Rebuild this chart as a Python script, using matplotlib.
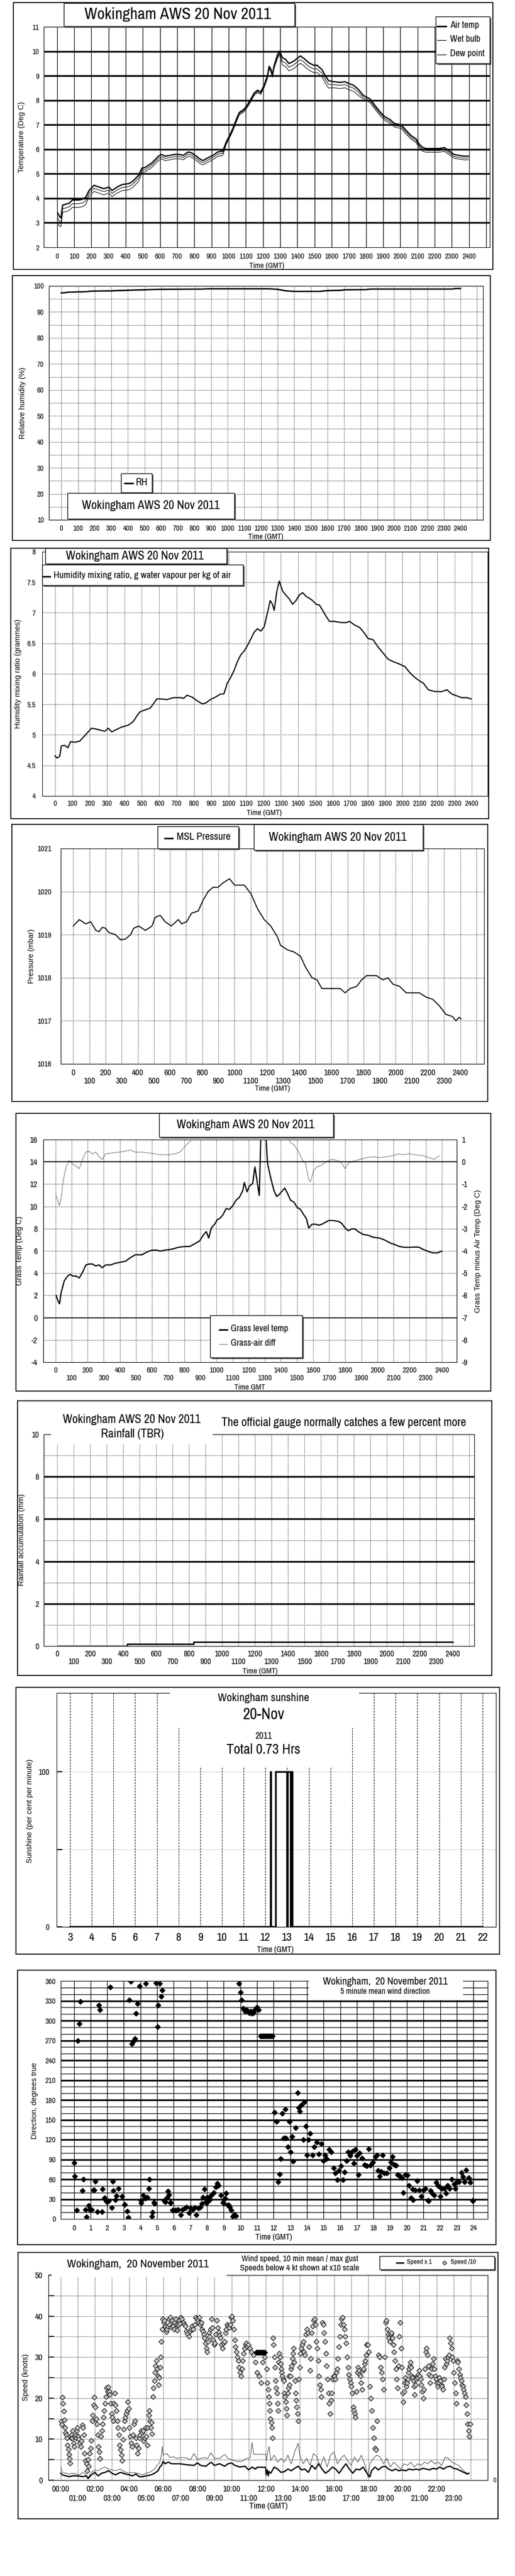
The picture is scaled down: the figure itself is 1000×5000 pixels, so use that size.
import numpy as np
import matplotlib
matplotlib.use("Agg")
import matplotlib.pyplot as plt
from matplotlib.patches import Rectangle

# ------------------------------------------------------------------
# values for 20 Nov 2011
# times for the first six charts are in "HHMM" units (100 = 1 hour)
# ------------------------------------------------------------------
temp_time = [4, 13, 23, 33, 52, 71, 90, 129, 148, 167, 187, 216, 244, 273, 302, 321, 350, 379,
             418, 437, 456, 475, 495, 514, 552, 572, 591, 610, 629, 658, 687, 716, 735, 764,
             783, 812, 831, 850, 879, 908, 937, 966, 985, 1005, 1024, 1043, 1062, 1091, 1110,
             1130, 1149, 1168, 1187, 1207, 1226, 1236, 1245, 1255, 1264, 1284, 1297, 1313, 1332,
             1351, 1380, 1399, 1418, 1438, 1467, 1495, 1515, 1544, 1563, 1582, 1611, 1649, 1678,
             1697, 1726, 1755, 1784, 1823, 1853, 1880, 1909, 1938, 1967, 2005, 2034, 2063, 2092,
             2111, 2131, 2150, 2188, 2226, 2256, 2284, 2313, 2342, 2371, 2396]
air_temp = [3.40, 3.27, 3.20, 3.72, 3.76, 3.80, 3.93, 3.93, 3.96, 4.04, 4.32, 4.53, 4.46, 4.39,
            4.46, 4.32, 4.46, 4.56, 4.60, 4.67, 4.80, 4.94, 5.23, 5.26, 5.44, 5.58, 5.72, 5.79,
            5.72, 5.75, 5.79, 5.79, 5.75, 5.89, 5.86, 5.72, 5.61, 5.54, 5.65, 5.75, 5.89, 5.93,
            6.28, 6.56, 6.84, 7.19, 7.50, 7.64, 7.82, 8.06, 8.30, 8.41, 8.34, 8.62, 9.00, 9.39,
            9.28, 9.04, 9.39, 9.85, 10.00, 9.74, 9.67, 9.50, 9.60, 9.71, 9.81, 9.71, 9.53, 9.43,
            9.43, 9.25, 9.00, 8.80, 8.76, 8.73, 8.76, 8.69, 8.62, 8.45, 8.20, 8.06, 7.78, 7.54,
            7.33, 7.22, 7.05, 7.00, 6.77, 6.56, 6.42, 6.20, 6.07, 6.03, 6.03, 6.03, 6.07, 5.93,
            5.79, 5.75, 5.72, 5.72]
wet_bulb = [3.20, 3.07, 3.02, 3.57, 3.61, 3.65, 3.78, 3.78, 3.81, 3.89, 4.20, 4.41, 4.34, 4.27,
            4.34, 4.20, 4.34, 4.44, 4.48, 4.55, 4.68, 4.82, 5.14, 5.17, 5.35, 5.49, 5.63, 5.70,
            5.63, 5.66, 5.70, 5.70, 5.66, 5.80, 5.77, 5.63, 5.52, 5.45, 5.56, 5.66, 5.80, 5.84,
            6.23, 6.51, 6.79, 7.14, 7.45, 7.59, 7.77, 8.01, 8.25, 8.36, 8.29, 8.57, 8.95, 9.34,
            9.23, 8.99, 9.34, 9.77, 9.92, 9.59, 9.52, 9.35, 9.45, 9.56, 9.66, 9.56, 9.38, 9.28,
            9.28, 9.10, 8.85, 8.65, 8.64, 8.61, 8.64, 8.57, 8.50, 8.33, 8.12, 7.98, 7.70, 7.46,
            7.25, 7.14, 6.97, 6.92, 6.69, 6.48, 6.34, 6.12, 5.99, 5.95, 5.95, 5.95, 5.99, 5.85,
            5.71, 5.67, 5.64, 5.64]
dew_point = [3.00, 2.87, 2.85, 3.42, 3.46, 3.50, 3.63, 3.63, 3.66, 3.74, 4.07, 4.28, 4.21, 4.14,
             4.21, 4.07, 4.21, 4.31, 4.35, 4.42, 4.55, 4.69, 5.05, 5.08, 5.26, 5.40, 5.54, 5.61,
             5.54, 5.57, 5.61, 5.61, 5.57, 5.71, 5.68, 5.54, 5.43, 5.36, 5.47, 5.57, 5.71, 5.75,
             6.18, 6.46, 6.74, 7.09, 7.40, 7.54, 7.72, 7.96, 8.20, 8.31, 8.24, 8.52, 8.90, 9.29,
             9.18, 8.94, 9.29, 9.70, 9.85, 9.44, 9.37, 9.20, 9.30, 9.41, 9.51, 9.41, 9.23, 9.13,
             9.13, 8.95, 8.70, 8.50, 8.51, 8.48, 8.51, 8.44, 8.37, 8.20, 8.05, 7.91, 7.63, 7.39,
             7.18, 7.07, 6.90, 6.85, 6.62, 6.41, 6.27, 6.05, 5.92, 5.88, 5.88, 5.88, 5.92, 5.78,
             5.64, 5.60, 5.57, 5.57]

rh_time = [0, 20, 40, 100, 150, 180, 300, 330, 400, 420, 500, 530, 600, 850, 880, 1250, 1300,
           1350, 1400, 1550, 1600, 1680, 1700, 1830, 1860, 2350, 2370, 2400]
rh = [97.3, 97.4, 97.6, 97.7, 97.8, 98.0, 98.1, 98.2, 98.3, 98.4, 98.5, 98.6, 98.7, 98.8, 98.9,
      98.9, 98.7, 98.1, 97.9, 97.9, 98.2, 98.3, 98.5, 98.6, 98.8, 98.8, 99.0, 99.0]

mix_time = [0, 12, 27, 37, 56, 75, 89, 114, 143, 172, 191, 210, 230, 259, 287, 307, 326, 355,
            384, 422, 451, 471, 490, 519, 548, 567, 586, 606, 644, 683, 722, 741, 760, 789, 818,
            847, 866, 895, 924, 953, 972, 992, 1011, 1030, 1050, 1069, 1088, 1107, 1127, 1146,
            1165, 1185, 1204, 1223, 1239, 1252, 1262, 1277, 1291, 1310, 1329, 1348, 1368, 1387,
            1406, 1426, 1445, 1464, 1483, 1503, 1522, 1541, 1561, 1580, 1609, 1648, 1677, 1696,
            1725, 1754, 1783, 1802, 1831, 1860, 1889, 1918, 1947, 1976, 2014, 2043, 2072, 2101,
            2120, 2149, 2188, 2227, 2256, 2284, 2313, 2342, 2371, 2396]
mix_ratio = [4.66, 4.62, 4.65, 4.82, 4.83, 4.79, 4.89, 4.88, 4.90, 4.99, 5.05, 5.11, 5.10, 5.08,
             5.06, 5.11, 5.05, 5.09, 5.13, 5.16, 5.22, 5.31, 5.38, 5.41, 5.44, 5.51, 5.59, 5.59,
             5.58, 5.61, 5.61, 5.60, 5.65, 5.62, 5.56, 5.51, 5.52, 5.58, 5.62, 5.67, 5.67, 5.85,
             5.94, 6.05, 6.20, 6.31, 6.37, 6.46, 6.57, 6.68, 6.74, 6.70, 6.77, 7.00, 7.20, 7.14,
             7.04, 7.35, 7.52, 7.36, 7.29, 7.23, 7.14, 7.20, 7.29, 7.33, 7.27, 7.24, 7.20, 7.14,
             7.13, 7.04, 6.94, 6.86, 6.86, 6.84, 6.84, 6.86, 6.80, 6.76, 6.66, 6.58, 6.56, 6.44,
             6.34, 6.24, 6.20, 6.17, 6.12, 6.02, 5.94, 5.88, 5.85, 5.74, 5.71, 5.71, 5.74, 5.67,
             5.64, 5.61, 5.61, 5.59]

pres_time = [0, 37, 78, 108, 140, 160, 180, 200, 220, 262, 293, 324, 355, 375, 406, 447, 488,
             508, 539, 570, 607, 652, 672, 703, 734, 775, 805, 836, 867, 898, 928, 969, 1000,
             1061, 1102, 1143, 1184, 1225, 1266, 1286, 1327, 1368, 1409, 1440, 1481, 1512, 1542,
             1594, 1655, 1686, 1717, 1758, 1788, 1819, 1880, 1921, 1952, 1983, 2024, 2065, 2116,
             2147, 2188, 2229, 2270, 2311, 2352, 2373, 2393, 2405]
pressure = [1019.20, 1019.35, 1019.25, 1019.30, 1019.10, 1019.07, 1019.17, 1019.15, 1019.05,
            1019.00, 1018.88, 1018.90, 1019.00, 1019.15, 1019.20, 1019.10, 1019.20, 1019.40,
            1019.45, 1019.30, 1019.20, 1019.35, 1019.25, 1019.30, 1019.50, 1019.55, 1019.80,
            1020.00, 1020.10, 1020.10, 1020.20, 1020.30, 1020.15, 1020.15, 1019.95, 1019.60,
            1019.35, 1019.20, 1018.95, 1018.75, 1018.65, 1018.60, 1018.50, 1018.25, 1018.00,
            1017.95, 1017.75, 1017.75, 1017.75, 1017.65, 1017.75, 1017.80, 1017.95, 1018.05,
            1018.05, 1017.95, 1018.00, 1017.85, 1017.80, 1017.65, 1017.65, 1017.65, 1017.55,
            1017.50, 1017.35, 1017.15, 1017.10, 1017.00, 1017.08, 1017.05]

grass = [(4, 1.99), (14, 1.57), (25, 1.24), (35, 2.24), (55, 3.32), (76, 3.74), (90, 3.90),
         (107, 3.74), (127, 3.74), (148, 3.57), (168, 4.07), (189, 4.74), (209, 4.82), (230, 4.82),
         (250, 4.65), (271, 4.74), (291, 4.49), (312, 4.74), (343, 4.74), (373, 4.90), (404, 4.98),
         (435, 5.07), (466, 5.40), (496, 5.65), (537, 5.65), (568, 5.90), (599, 6.07), (630, 6.07),
         (650, 5.98), (681, 6.07), (722, 6.15), (763, 6.32), (804, 6.40), (835, 6.40), (866, 6.65),
         (896, 6.90), (917, 7.40), (937, 7.73), (952, 7.15), (968, 8.06), (989, 8.40), (1005, 8.81),
         (1019, 8.90), (1040, 9.23), (1060, 9.81), (1081, 9.73), (1101, 10.06), (1122, 10.56),
         (1142, 10.81), (1163, 11.39), (1173, 12.14), (1190, 11.31), (1204, 11.81), (1225, 12.06),
         (1239, 13.55), (1251, 12.39), (1266, 10.98), (1276, 16.5), (1296, 16.5), (1307, 16.5),
         (1317, 13.89), (1337, 12.56), (1358, 11.39), (1374, 10.89), (1389, 11.06), (1409, 11.39),
         (1424, 11.64), (1440, 11.22), (1460, 10.56), (1481, 10.39), (1502, 9.89), (1522, 9.73),
         (1543, 9.23), (1559, 8.90), (1573, 8.06), (1594, 8.40), (1614, 8.40), (1635, 8.31),
         (1655, 8.40), (1676, 8.56), (1696, 8.73), (1727, 8.73), (1758, 8.65), (1778, 8.48),
         (1799, 8.06), (1819, 7.81), (1840, 7.98), (1860, 7.98), (1881, 7.73), (1912, 7.48),
         (1943, 7.40), (1973, 7.23), (2014, 7.15), (2045, 6.98), (2076, 6.73), (2107, 6.57),
         (2137, 6.40), (2168, 6.32), (2199, 6.32), (2240, 6.35), (2260, 6.32), (2281, 6.15),
         (2312, 5.98), (2342, 5.82), (2373, 5.82), (2400, 5.98)]
grass_air = [(4, -1.51), (14, -1.72), (25, -1.97), (35, -1.64), (49, -0.81), (66, -0.22),
             (86, 0.07), (107, -0.10), (127, -0.18), (148, -0.31), (168, 0.11), (189, 0.44),
             (209, 0.48), (230, 0.36), (250, 0.44), (271, 0.23), (291, 0.11), (312, 0.36),
             (353, 0.40), (394, 0.44), (435, 0.48), (466, 0.53), (496, 0.44), (537, 0.44),
             (578, 0.40), (619, 0.36), (660, 0.32), (702, 0.32), (743, 0.36), (773, 0.44),
             (794, 0.61), (814, 0.78), (835, 0.90), (855, 1.10), (900, 1.4), (1000, 2.3),
             (1100, 2.8), (1200, 3.6), (1290, 6.0), (1350, 2.2), (1430, 1.3), (1460, 0.86),
             (1481, 0.78), (1502, 0.53), (1512, 0.44), (1532, 0.11), (1553, -0.06), (1573, -0.81),
             (1584, -0.89), (1604, -0.39), (1624, -0.22), (1655, -0.14), (1686, 0.03), (1717, 0.11),
             (1748, 0.07), (1778, -0.06), (1799, -0.31), (1819, -0.06), (1850, 0.03), (1891, 0.11),
             (1932, 0.19), (1973, 0.23), (2014, 0.19), (2055, 0.23), (2096, 0.28), (2127, 0.36),
             (2158, 0.32), (2199, 0.36), (2240, 0.32), (2281, 0.28), (2322, 0.19), (2353, 0.11),
             (2383, 0.28)]

rain_time = [4, 424, 827, 2400]
rain_mm = [0.0, 0.1, 0.2, 0.2]

# sunshine: minutes of the day with sun (start, end)
sun_start = [735, 749, 782, 791]
sun_end = [736, 780, 790, 795]

# wind direction (hour, degrees)
wind_dir = [(0.0, 85), (0.06, 65), (0.24, 270), (0.32, 295), (0.40, 329), (0.50, 43), (0.56, 60),
            (1.15, 44), (1.23, 44), (1.29, 57), (1.49, 323), (1.57, 316), (1.73, 45), (1.85, 32),
            (1.92, 28), (1.99, 26), (2.18, 351), (2.34, 57), (2.38, 43), (2.54, 35), (2.68, 46),
            (2.90, 34), (3.04, 22), (3.31, 331), (3.43, 359), (3.47, 265), (3.57, 269), (3.67, 273),
            (3.73, 311), (3.81, 326), (3.93, 352), (4.03, 28), (4.17, 36), (4.27, 31), (4.33, 356),
            (4.40, 33), (4.50, 46), (4.54, 60), (4.82, 25), (4.92, 357), (5.02, 291), (5.06, 323),
            (5.16, 356), (5.24, 337), (5.30, 346), (5.42, 28), (5.50, 26), (5.60, 33), (5.65, 42),
            (5.71, 37), (5.81, 25), (7.74, 33), (7.84, 45), (7.94, 26), (8.00, 33), (8.13, 32),
            (8.26, 36), (8.39, 40), (8.53, 48), (8.63, 54), (8.69, 51), (8.83, 36), (8.97, 25),
            (9.09, 31), (9.15, 39), (9.23, 21), (9.37, 18), (9.92, 356), (10.00, 343), (10.08, 331),
            (10.16, 319), (10.22, 316), (10.30, 314), (10.38, 316), (10.46, 313), (10.54, 312),
            (10.62, 314), (10.70, 311), (10.78, 312), (10.86, 316), (10.94, 319), (11.00, 320),
            (11.10, 316), (11.20, 277), (11.28, 277), (11.36, 277), (11.44, 277), (11.52, 277),
            (11.60, 277), (11.68, 277), (11.76, 277), (11.84, 277), (11.92, 277), (12.04, 161),
            (12.16, 147), (12.26, 56), (12.36, 68), (12.42, 91), (12.50, 160), (12.60, 122),
            (12.70, 166), (12.74, 122), (12.86, 109), (12.94, 147), (13.00, 101), (13.10, 125),
            (13.17, 87), (13.33, 138), (13.43, 191), (13.49, 168), (13.57, 163), (13.67, 172),
            (13.77, 120), (13.83, 177), (13.95, 140), (14.00, 97), (14.09, 120), (14.19, 129),
            (14.35, 97), (14.44, 109), (14.58, 116), (14.70, 98), (14.88, 114), (15.00, 88),
            (15.08, 97), (15.18, 91), (15.32, 105), (15.44, 101), (15.60, 77), (15.70, 69),
            (15.83, 59), (15.93, 73), (16.03, 80), (16.17, 59), (16.27, 71), (16.37, 88),
            (16.47, 101), (16.61, 96), (16.73, 102), (16.80, 84), (16.90, 105), (17.00, 96),
            (17.10, 67), (17.17, 100), (17.31, 92), (17.46, 82), (17.60, 80), (17.70, 106),
            (17.80, 81), (17.96, 86), (18.10, 94), (18.20, 97), (18.27, 73), (18.35, 65),
            (18.45, 72), (18.55, 97), (18.65, 69), (18.80, 69), (18.95, 77), (19.05, 86),
            (19.15, 94), (19.25, 82), (19.35, 81), (19.44, 67), (19.52, 66), (19.60, 65),
            (19.70, 62), (19.78, 40), (19.90, 67), (20.04, 66), (20.14, 51), (20.26, 32),
            (20.34, 45), (20.50, 44), (20.63, 58), (20.73, 44), (20.87, 34), (21.00, 44),
            (21.13, 46), (21.27, 28), (21.43, 43), (21.53, 39), (21.63, 36), (21.77, 55),
            (21.87, 51), (21.98, 48), (22.02, 34), (22.10, 46), (22.26, 46), (22.34, 39),
            (22.44, 51), (22.56, 46), (22.70, 60), (22.84, 53), (22.90, 46), (22.98, 55),
            (23.13, 56), (23.27, 70), (23.37, 64), (23.47, 56), (23.57, 74), (23.71, 62),
            (23.80, 55), (23.95, 28),
            (0.16, 13), (0.71, 14), (0.77, 3), (0.87, 20), (0.95, 14), (1.07, 14), (1.41, 11),
            (1.67, 11), (1.94, 27), (2.10, 27), (2.26, 17), (2.50, 29), (3.06, 22), (3.19, 12),
            (3.25, 2), (4.05, 24), (4.72, 10), (4.68, 4), (4.84, 23), (5.44, 27), (5.81, 24),
            (5.91, 13), (6.07, 13), (6.17, 13), (6.27, 14), (6.43, 6), (6.51, 14), (6.67, 16),
            (6.77, 18), (6.90, 9), (7.00, 16), (7.12, 14), (7.24, 17), (7.36, 6), (7.46, 16),
            (7.60, 18), (7.70, 23), (7.96, 24), (8.15, 29), (8.99, 24), (9.29, 21), (9.44, 13),
            (9.54, 4), (9.64, 7), (9.74, 5), (20.36, 29), (21.29, 27), (23.97, 27)]

# wind speed, 10 min mean and max gust (hour, knots)
wind_mean = [(0.0, 1.7), (0.1, 1.3), (0.3, 1.05), (0.5, 0.85), (0.7, 1.05), (0.9, 1.05),
             (1.0, 1.05), (1.3, 0.85), (1.5, 1.05), (1.6, 0.4), (1.8, 1.3), (2.0, 1.9), (2.2, 1.05),
             (2.4, 1.7), (2.6, 1.9), (2.8, 2.3), (3.0, 1.7), (3.2, 1.3), (3.5, 1.9), (3.8, 1.5),
             (4.0, 1.3), (4.2, 1.05), (4.4, 1.5), (4.6, 0.85), (4.8, 0.85), (5.0, 1.05), (5.3, 1.3),
             (5.5, 1.7), (5.7, 2.3), (5.8, 3.2), (5.9, 3.6), (6.0, 4.6), (6.1, 4.0), (6.3, 4.4),
             (6.5, 4.0), (7.0, 4.0), (7.3, 3.8), (7.8, 3.6), (8.0, 4.2), (8.2, 3.6), (8.5, 3.4),
             (8.8, 4.4), (9.0, 3.6), (9.3, 4.0), (9.6, 3.4), (9.8, 4.0), (10.0, 4.2), (10.2, 3.6),
             (10.5, 3.2), (10.8, 3.4), (11.0, 2.5), (11.2, 3.2), (11.4, 2.7), (11.5, 3.15),
             (12.0, 3.15), (12.03, 1.3), (12.1, 2.5), (12.15, 1.05), (12.2, 2.1), (12.3, 1.7),
             (12.5, 3.2), (12.7, 2.7), (12.9, 1.9), (13.1, 2.1), (13.3, 2.7), (13.5, 2.3),
             (13.7, 2.9), (13.9, 3.4), (14.1, 2.5), (14.3, 2.7), (14.5, 1.9), (14.7, 3.6),
             (14.9, 2.7), (15.1, 4.0), (15.3, 2.7), (15.5, 1.7), (15.7, 2.3), (15.9, 3.2),
             (16.1, 2.7), (16.3, 1.7), (16.5, 2.9), (16.7, 4.0), (16.9, 2.7), (17.1, 1.7),
             (17.3, 2.7), (17.5, 2.5), (17.7, 3.2), (17.9, 1.9), (18.1, 0.8), (18.2, 2.3),
             (18.4, 3.2), (18.6, 2.5), (18.8, 3.2), (19.0, 3.4), (19.2, 2.7), (19.4, 2.3),
             (19.6, 2.7), (19.8, 2.3), (20.0, 2.5), (20.2, 2.3), (20.4, 2.7), (20.6, 2.5),
             (20.8, 2.7), (21.0, 2.5), (21.2, 2.9), (21.4, 2.7), (21.6, 2.5), (21.8, 2.9),
             (22.0, 2.7), (22.2, 3.2), (22.4, 2.7), (22.6, 3.2), (22.8, 3.4), (23.0, 2.9),
             (23.2, 2.7), (23.4, 2.3), (23.6, 1.9), (23.8, 1.5), (23.9, 1.7)]
wind_gust = [(0.0, 3.2), (0.1, 1.9), (0.3, 1.7), (0.5, 1.5), (0.7, 1.7), (0.9, 1.5), (1.1, 1.3),
             (1.3, 1.9), (1.5, 1.3), (1.6, 0.6), (1.8, 1.9), (2.0, 2.5), (2.2, 2.3), (2.4, 2.9),
             (2.6, 3.2), (2.8, 2.7), (3.0, 2.5), (3.2, 2.3), (3.5, 2.7), (3.8, 1.9), (4.0, 1.7),
             (4.2, 1.9), (4.5, 1.7), (4.8, 1.3), (5.0, 1.7), (5.2, 1.9), (5.5, 2.7), (5.6, 3.4),
             (5.8, 4.4), (5.9, 6.1), (5.95, 8.2), (6.0, 6.1), (6.2, 6.5), (6.4, 5.5), (6.6, 5.7),
             (6.8, 5.3), (7.0, 5.5), (7.3, 5.5), (7.6, 5.0), (7.8, 6.5), (8.0, 5.0), (8.2, 5.3),
             (8.4, 5.5), (8.6, 5.3), (8.8, 6.7), (9.0, 5.3), (9.3, 5.3), (9.6, 6.3), (9.8, 5.3),
             (10.0, 5.0), (10.3, 4.6), (10.6, 4.6), (10.9, 5.3), (11.1, 5.5), (11.2, 9.2),
             (11.3, 6.3), (12.0, 6.3), (12.05, 4.8), (12.1, 6.5), (12.2, 8.2), (12.3, 4.8),
             (12.5, 6.1), (12.7, 4.4), (12.9, 5.3), (13.1, 4.4), (13.3, 6.1), (13.5, 4.0),
             (13.7, 6.9), (13.9, 9.0), (14.0, 6.1), (14.2, 4.0), (14.4, 5.3), (14.6, 3.6),
             (14.8, 6.5), (15.0, 5.7), (15.2, 3.2), (15.4, 5.7), (15.6, 3.2), (15.8, 6.1),
             (16.0, 6.9), (16.2, 4.0), (16.4, 5.3), (16.6, 6.1), (16.8, 4.8), (17.0, 3.6),
             (17.2, 5.7), (17.4, 4.4), (17.6, 6.1), (17.8, 4.0), (18.0, 0.6), (18.1, 4.0),
             (18.3, 5.3), (18.5, 6.1), (18.7, 5.7), (18.9, 4.0), (19.1, 5.3), (19.3, 3.2),
             (19.5, 4.4), (19.7, 3.6), (19.9, 2.7), (20.1, 4.0), (20.3, 3.6), (20.5, 4.4),
             (20.7, 3.2), (20.9, 4.0), (21.1, 3.6), (21.3, 4.4), (21.5, 4.0), (21.7, 4.8),
             (21.9, 4.0), (22.1, 4.4), (22.3, 3.6), (22.5, 5.6), (22.7, 5.3), (22.9, 4.4),
             (23.1, 4.0), (23.3, 3.6), (23.5, 2.7), (23.7, 1.9), (23.8, 1.7), (23.9, 1.5)]
# diamonds (speeds below 4 kt at x10 scale), one list per hour
speed_x10 = [
    [14.3, 13.6, 20.2, 18.7, 16.8, 14.7, 12.8, 11.6, 11.1, 10.3, 8.6, 7.6, 6.3, 5.3, 4.2, 10.3,
     11.0, 10.3, 12.0, 9.0, 8.2, 10.5, 10.9, 10.3, 12.0, 12.8],
    [10.7, 10.1, 9.0, 8.2, 9.5, 13.4, 12.8, 11.1, 6.5, 4.8, 4.0, 2.3, 5.0, 3.4, 6.5, 7.8, 9.7,
     14.5, 15.8, 18.3, 20.2],
    [17.9, 14.9, 13.7, 11.1, 8.2, 6.9, 5.3, 10.7, 12.0, 13.7, 15.3, 17.0, 18.7, 20.4, 22.5, 21.6,
     22.7, 21.6, 20.8, 18.7, 16.2],
    [15.3, 14.5, 18.7, 21.2, 18.3, 17.0, 14.5, 12.8, 11.1, 8.6, 7.4, 6.1, 4.8, 9.9, 12.4, 14.5,
     15.3, 16.2, 17.0, 19.1, 17.4],
    [12.8, 10.7, 9.0, 8.2, 11.1, 13.7, 14.5, 10.3, 8.6, 6.5, 7.8, 10.3, 11.1, 12.0, 11.6, 12.0,
     9.5, 10.3, 12.8],
    [10.7, 8.6, 12.8, 15.8, 17.0, 14.5, 12.8, 14.1, 11.3, 20.4, 22.5, 24.2, 26.3, 27.9, 29.2,
     27.1, 25.4, 23.3, 25.0, 27.5, 30.0, 33.8, 36.8, 39.3],
    [38.4, 39.0, 37.6, 36.2, 36.8, 37.6, 39.3, 38.0, 39.7, 37.3, 38.9, 37.6, 36.8, 38.4, 39.3,
     38.0, 36.5, 37.8, 39.0, 38.2],
    [39.7, 39.3, 38.4, 38.0, 37.6, 36.3, 35.7, 35.1, 36.3, 36.8, 37.6, 36.8, 38.0, 39.7, 39.3],
    [38.9, 38.4, 39.7, 38.0, 38.4, 36.8, 36.3, 35.5, 34.7, 33.4, 32.1, 31.3, 33.8, 35.9, 35.1,
     36.8, 39.3, 37.2, 34.2, 33.0],
    [33.4, 35.5, 38.9, 37.2, 36.0, 35.3, 34.7, 33.0, 32.1, 33.4, 33.8, 35.9, 36.8, 38.0, 37.6,
     37.2, 38.0, 39.7],
    [40.0, 38.9, 36.8, 34.2, 32.6, 31.3, 30.0, 29.2, 27.5, 26.3, 25.4, 27.1, 29.2, 30.9, 32.1,
     33.0, 33.4, 32.6, 33.0],
    [32.1, 31.3, 30.5, 28.8, 26.3, 25.4, 23.7, 28.8, 30.0],
    [27.1, 23.7, 22.1, 20.4, 18.7, 17.0, 15.0, 14.1, 12.8, 10.3, 34.7, 33.0, 30.0, 27.5, 24.2,
     22.5, 21.2, 18.7, 17.0, 28.8, 30.9, 30.0, 28.4, 27.1, 26.3, 25.4],
    [24.6, 24.2, 21.2, 20.4, 19.1, 17.4, 15.8, 21.2, 22.5, 25.4, 23.3, 25.4, 27.1, 27.9, 29.6,
     30.9, 32.1, 28.8, 24.2, 21.2, 19.5, 17.9, 16.2, 14.5, 24.6, 27.5],
    [30.9, 32.1, 33.0, 33.8, 31.3, 30.5, 35.5, 36.8, 35.9, 32.6, 26.7, 29.6, 35.9, 37.6, 38.9,
     39.3, 38.0, 33.8],
    [32.1, 29.2, 25.4, 23.3, 22.1, 20.4, 38.4, 38.0, 35.9, 33.8, 30.9, 27.9, 24.6, 21.2, 18.7,
     16.2, 19.5, 21.2, 24.6, 25.4],
    [25.4, 24.6, 26.3, 27.1, 29.6, 32.6, 35.1, 38.0, 39.3, 39.7, 38.0, 36.8, 35.1, 33.4, 30.0,
     27.5, 25.8, 24.6, 23.7],
    [22.9, 21.2, 17.9, 17.0, 16.2, 15.3, 21.6, 26.3, 27.5, 26.7, 25.8, 25.4, 23.7, 22.1, 26.7,
     27.1, 28.4, 29.2, 30.5, 33.0, 33.0],
    [31.3, 22.9, 20.0, 17.0, 12.8, 10.3, 7.8, 7.4, 14.5, 30.5, 30.0, 27.5, 26.3, 24.6, 22.1, 30.0],
    [38.4, 38.9, 36.8, 35.5, 34.7, 33.8, 35.5, 35.9, 34.7, 33.0, 31.3, 29.2, 27.1, 24.6, 22.5,
     27.9, 35.1, 38.4, 32.1, 27.5],
    [21.2, 19.1, 21.6, 23.7, 25.0, 22.9, 23.7, 24.6, 26.3, 27.1, 27.9, 28.8, 27.5, 25.4, 25.0,
     24.2, 22.9, 20.8, 23.3, 24.6, 25.4, 25.0, 25.8, 26.7],
    [25.4, 24.6, 23.3, 21.6, 20.0, 22.1, 27.1, 31.3, 32.1, 30.5, 27.9, 25.8, 23.7, 25.4, 27.1,
     28.4, 29.6, 27.1, 25.4, 24.6],
    [23.7, 22.9, 23.7, 25.0, 24.2, 23.3, 22.9, 22.1, 24.6, 27.5, 29.6, 28.4, 29.2, 30.0, 30.5,
     34.7, 33.4, 32.1, 30.0, 29.2],
    [26.3, 23.7, 21.2, 18.7, 29.2, 28.8, 27.1, 25.8, 25.0, 24.2, 23.3, 22.9, 22.1, 21.2, 20.4,
     18.3, 16.2, 13.7, 12.0, 10.7, 13.7],
]
# missing-data stretch drawn as black diamonds at a constant value
blob_start, blob_end, blob_value = 11.45, 11.95, 31.1

# ------------------------------------------------------------------
W, H = 1000, 5000
NARROW = ['Archivo Narrow', 'Liberation Sans', 'DejaVu Sans']
WIDE = ['Liberation Sans', 'DejaVu Sans']
plt.rcParams['font.family'] = NARROW
plt.rcParams['axes.unicode_minus'] = False
DOT = (0, (1, 1.6))

fig = plt.figure(figsize=(W / 100, H / 100), dpi=100)
fig.patch.set_facecolor('white')

# overlay in pixel coordinates for frames, boxes and free text
ov = fig.add_axes([0, 0, 1, 1], zorder=10)
ov.set_xlim(0, W)
ov.set_ylim(H, 0)
ov.axis('off')


def px_axes(x0, y0, x1, y1):
    return fig.add_axes([x0 / W, 1 - y1 / H, (x1 - x0) / W, (y1 - y0) / H])


def frame(x0, y0, x1, y1):
    ov.add_patch(Rectangle((x0, y0), x1 - x0, y1 - y0, fill=False, ec='black', lw=1.3))


def tbox(x0, y0, x1, y1):
    ov.add_patch(Rectangle((x0 + 3, y0 + 3), x1 - x0, y1 - y0, fc='#606060', ec='none'))
    ov.add_patch(Rectangle((x0, y0), x1 - x0, y1 - y0, fc='white', ec='black', lw=1.0))


def blank(x0, y0, x1, y1):
    ov.add_patch(Rectangle((x0, y0), x1 - x0, y1 - y0, fc='white', ec='none'))


def txt(x, y, s, size, ha='center', **kw):
    ov.text(x, y, s, fontsize=size, ha=ha, va='center', **kw)


def ylab(x, y, s, size=10.5):
    ov.text(x, y, s, fontsize=size, rotation=90, ha='center', va='center', family=WIDE)


def sample(x0, x1, y, **kw):
    ov.plot([x0, x1], [y, y], **kw)


def vlines(ax, pos, **kw):
    for p in pos:
        ax.axvline(p, zorder=1, **kw)


def hlines(ax, pos, **kw):
    for p in pos:
        ax.axhline(p, zorder=1, **kw)


def hours_two_rows(ax, pad1, pad2, size):
    ax.set_xticks(range(0, 2401, 200))
    ax.set_xticks(range(100, 2400, 200), minor=True)
    ax.set_xticklabels([str(v) for v in range(0, 2401, 200)])
    ax.set_xticklabels([str(v) for v in range(100, 2400, 200)], minor=True)
    ax.tick_params(axis='x', which='major', pad=pad1, labelsize=size, length=0)
    ax.tick_params(axis='x', which='minor', pad=pad2, labelsize=size, length=0)


# ---------------- 1. temperatures ----------------
frame(26, 5, 957, 523)
ax = px_axes(85, 52, 951, 480)
ax.set_xlim(-77, 2521)
ax.set_ylim(2, 11)
vlines(ax, range(0, 2501, 100), color='k', lw=0.9)
hlines(ax, range(3, 11), color='k', lw=2.4)
ax.plot(temp_time, dew_point, color='k', lw=0.8)
ax.plot(temp_time, wet_bulb, color='k', lw=0.8)
ax.plot(temp_time, air_temp, color='k', lw=1.8)
ax.set_xticks(range(0, 2401, 100))
ax.set_yticks(range(2, 12))
ax.tick_params(length=0, labelsize=10.5)
ax.tick_params(axis='x', pad=8)
ax.tick_params(axis='y', pad=6.5)
tbox(124, 6, 572, 51)
txt(345, 28, 'Wokingham AWS 20 Nov 2011', 23)
tbox(846, 32, 951, 123)
sample(849, 866, 51, color='k', lw=2.2)
sample(849, 866, 78, color='k', lw=0.9)
sample(849, 866, 106, color='k', lw=0.9)
txt(874, 49, 'Air temp', 13, ha='left')
txt(874, 76, 'Wet bulb', 13, ha='left')
txt(874, 104, 'Dew point', 13, ha='left')
ylab(42, 266, 'Temperature (Deg C)')
txt(518, 516, 'Time (GMT)', 11)

# ---------------- 2. relative humidity ----------------
frame(24, 535, 952, 1049)
ax = px_axes(95, 555, 938, 1009)
ax.set_xlim(-75, 2536)
ax.set_ylim(10, 100)
vlines(ax, range(0, 2501, 100), color='k', lw=0.8, ls=DOT)
hlines(ax, range(15, 100, 5), color='k', lw=0.8, ls=DOT)
ax.plot(rh_time, rh, color='k', lw=2.0)
ax.set_xticks(range(0, 2401, 100))
ax.set_yticks(range(10, 101, 10))
ax.tick_params(length=0, labelsize=10.5)
ax.tick_params(axis='x', pad=7.5)
ax.tick_params(axis='y', pad=7)
tbox(235, 919, 295, 956)
sample(242, 258, 938, color='k', lw=2.2)
txt(264, 936, 'RH', 14, ha='left')
tbox(131, 957, 455, 1007)
txt(293, 981, 'Wokingham AWS 20 Nov 2011', 17)
ylab(44, 782, 'Relative humidity (%)')
txt(516, 1042, 'Time (GMT)', 11)

# ---------------- 3. humidity mixing ratio ----------------
frame(21, 1064, 949, 1589)
ax = px_axes(82, 1071, 947, 1545)
ax.set_xlim(-73.5, 2491)
ax.set_ylim(4, 8)
vlines(ax, range(0, 2401, 100), color='k', lw=0.8, ls=DOT)
hlines(ax, np.arange(4.5, 8, 0.5), color='k', lw=0.8, ls=DOT)
ax.plot(mix_time, mix_ratio, color='k', lw=1.6)
ax.set_xticks(range(0, 2401, 100))
ax.set_yticks(np.arange(4, 8.01, 0.5))
ax.set_yticklabels(['4', '4.5', '5', '5.5', '6', '6.5', '7', '7.5', '8'])
ax.tick_params(length=0, labelsize=10.5)
ax.tick_params(axis='x', pad=6)
ax.tick_params(axis='y', pad=9)
tbox(88, 1064, 440, 1094)
txt(262, 1080, 'Wokingham AWS 20 Nov 2011', 17)
tbox(82, 1096, 472, 1136)
sample(83, 97, 1119, color='k', lw=2.2)
txt(104, 1117, 'Humidity mixing ratio, g water vapour per kg of air', 13.5, ha='left')
ylab(35, 1308, 'Humidity mixing ratio (grammes)')
txt(513, 1578, 'Time (GMT)', 11)

# ---------------- 4. pressure ----------------
frame(23, 1600, 947, 2138)
ax = px_axes(118, 1647, 940, 2065)
ax.set_xlim(-77.6, 2548)
ax.set_ylim(1016, 1021)
vlines(ax, range(0, 2501, 100), color='k', lw=0.8, ls=DOT)
hlines(ax, range(1017, 1021), color='k', lw=0.8, ls=DOT)
ax.plot(pres_time, pressure, color='k', lw=1.4)
hours_two_rows(ax, 7, 19, 12)
ax.set_yticks(range(1016, 1022))
ax.tick_params(axis='y', length=0, labelsize=11, pad=13)
tbox(306, 1604, 463, 1647)
sample(320, 335, 1627, color='k', lw=2.2)
txt(343, 1624, 'MSL Pressure', 14.5, ha='left')
tbox(493, 1600, 821, 1650)
txt(656, 1625, 'Wokingham AWS 20 Nov 2011', 17)
ylab(61, 1856, 'Pressure (mbar)')
txt(529, 2113, 'Time (GMT)', 11)

# ---------------- 5. grass temperature ----------------
frame(31, 2161, 953, 2700)
ax = px_axes(84, 2212, 887, 2644)
ax.set_xlim(-75.8, 2493)
ax.set_ylim(-4, 16)
vlines(ax, range(0, 2401, 100), color='k', lw=0.8, ls=DOT)
hlines(ax, [-2, 2, 4, 6, 8, 10, 12], color='k', lw=0.8, ls=DOT)
hlines(ax, [0, 14], color='k', lw=1.4)
axr = ax.twinx()
axr.set_ylim(-9, 1)
gt, gv = zip(*grass_air)
axr.plot(gt, gv, color='#8c8c8c', lw=1.0)
tt, tv = zip(*grass)
ax.plot(tt, tv, color='k', lw=1.7)
ax.set_zorder(axr.get_zorder() + 1)
ax.patch.set_visible(False)
hours_two_rows(ax, 6.5, 17, 11)
ax.set_yticks(range(-4, 17, 2))
ax.tick_params(axis='y', length=0, labelsize=12, pad=8)
for lab in ax.get_yticklabels():
    lab.set_fontweight('bold')
axr.set_yticks(range(-9, 2))
axr.tick_params(axis='y', length=0, labelsize=11.5, pad=7)
tbox(309, 2161, 647, 2207)
txt(477, 2184, 'Wokingham AWS 20 Nov 2011', 17)
tbox(408, 2553, 587, 2635)
sample(426, 441, 2581, color='k', lw=2.2)
sample(426, 441, 2609, color='#8c8c8c', lw=1.0)
txt(448, 2579, 'Grass level temp', 13, ha='left')
txt(448, 2607, 'Grass-air diff', 13, ha='left')
ylab(38, 2428, 'Grass Temp (Deg C)')
ylab(928, 2428, 'Grass Temp minus Air Temp (Deg C)')
txt(485, 2693, 'Time GMT', 11)

# ---------------- 6. rainfall ----------------
frame(34, 2719, 955, 3252)
ax = px_axes(85, 2784, 921, 3195)
ax.set_xlim(-81, 2530)
ax.set_ylim(0, 10)
vlines(ax, range(0, 2501, 100), color='k', lw=0.8, ls=DOT)
hlines(ax, [1, 3, 5, 7, 9], color='k', lw=0.8, ls=DOT)
hlines(ax, [2, 4, 6, 8], color='k', lw=2.4)
ax.step(rain_time, rain_mm, where='post', color='k', lw=2.0)
hours_two_rows(ax, 5.5, 16.5, 11.5)
ax.set_yticks(range(0, 11, 2))
ax.tick_params(axis='y', length=0, labelsize=11.5, pad=6.5)
blank(99, 2730, 413, 2803)
txt(256, 2756, 'Wokingham AWS 20 Nov 2011', 17)
txt(257, 2783, 'Rainfall (TBR)', 17)
txt(668, 2761, 'The official gauge normally catches a few percent more', 17)
ylab(42, 2989, 'Rainfall accumulation (mm)')
txt(505, 3244, 'Time (GMT)', 11)

# ---------------- 7. sunshine ----------------
frame(31, 3275, 970, 3793)
ax = px_axes(110, 3286, 963, 3740)
ax.set_xlim(2.386, 22.62)
ax.set_ylim(0, 151)
vlines(ax, range(3, 23), color='k', lw=0.8, ls=(0, (3, 2)))
hlines(ax, [50, 100], color='#9a9a9a', lw=0.9, ls=DOT)
minutes = np.arange(180, 1321)
sun = np.zeros(len(minutes))
for s, e in zip(sun_start, sun_end):
    sun[(minutes >= s) & (minutes < e)] = 100
ax.step(minutes / 60, sun, where='post', color='k', lw=2.4)
ax.set_xticks(range(3, 23))
ax.tick_params(axis='x', length=0, labelsize=16, pad=8)
ax.set_yticks([0, 50, 100])
ax.set_yticklabels(['0', '', '100'])
ax.tick_params(axis='y', direction='in', length=8, width=1.5, labelsize=11.5, pad=10)
blank(330, 3280, 697, 3353)
blank(350, 3280, 680, 3429)
txt(512, 3296, 'Wokingham sunshine', 16)
txt(512, 3328, '20-Nov', 22)
txt(512, 3370, '2011', 13, fontweight='bold')
txt(512, 3397, 'Total 0.73 Hrs', 20)
ylab(58, 3515, 'Sunshine (per cent per minute)')
txt(535, 3785, 'Time (GMT)', 11.5)

# ---------------- 8. wind direction ----------------
frame(34, 3824, 963, 4357)
ax = px_axes(118, 3845, 947, 4307)
ax.set_xlim(-0.79, 24.86)
ax.set_ylim(0, 360)
vlines(ax, range(0, 25), color='k', lw=0.9)
hlines(ax, [v for v in range(10, 360, 10) if v % 30], color='k', lw=0.9)
hlines(ax, range(30, 360, 30), color='k', lw=2.4)
dh, dd = zip(*wind_dir)
ax.plot(dh, dd, ls='none', marker='D', ms=5.2, color='k', zorder=3)
ax.set_xticks(range(0, 25))
ax.set_yticks(range(0, 361, 30))
ax.tick_params(length=0, labelsize=11)
ax.tick_params(axis='x', pad=8)
ax.tick_params(axis='y', pad=7)
blank(600, 3838, 899, 3882)
txt(748, 3846, 'Wokingham,  20 November 2011', 14.5)
txt(748, 3865, '5 minute mean wind direction', 11.5)
ylab(67, 4078, 'Direction, degrees true')
txt(532, 4343, 'Time (GMT)', 11.5)

# ---------------- 9. wind speed ----------------
frame(35, 4372, 967, 4889)
ax = px_axes(94, 4416, 947, 4814)
ax.set_xlim(-0.72, 25.0)
ax.set_ylim(0, 50)
vlines(ax, range(0, 25), color='k', lw=0.8, ls=DOT)
hlines(ax, range(5, 50, 5), color='k', lw=0.8, ls=DOT)
for h, vals in enumerate(speed_x10):
    start = 12.05 if h == 12 else h
    t = start + (np.arange(len(vals)) + 0.5) * (h + 1 - start) / len(vals)
    ax.plot(t, vals, ls='none', marker='D', ms=5, mfc='#c8c8c8', mec='k', mew=0.8, zorder=3)
bt = np.arange(blob_start, blob_end, 1 / 60)
ax.plot(bt, np.full(len(bt), blob_value), ls='none', marker='D', ms=5, color='k', zorder=3)
gh, gk = zip(*wind_gust)
ax.plot(gh, gk, color='#4a4a4a', lw=0.8, zorder=4)
mh, mk = zip(*wind_mean)
ax.plot(mh, mk, color='k', lw=1.8, zorder=5)
ax.set_xticks(range(0, 23, 2))
ax.set_xticks(range(1, 24, 2), minor=True)
ax.set_xticklabels(['%02d:00' % v for v in range(0, 23, 2)])
ax.set_xticklabels(['%02d:00' % v for v in range(1, 24, 2)], minor=True)
ax.tick_params(axis='x', which='major', length=0, labelsize=12, pad=7)
ax.tick_params(axis='x', which='minor', length=0, labelsize=12, pad=20)
ax.set_yticks(range(0, 51, 5))
ax.set_yticklabels([str(v) if v % 10 == 0 else '' for v in range(0, 51, 5)])
ax.tick_params(axis='y', direction='in', length=8, width=1.3, labelsize=12, pad=8)
blank(100, 4408, 440, 4419)
txt(268, 4395, 'Wokingham,  20 November 2011', 16.5)
txt(582, 4384, 'Wind speed, 10 min mean / max gust', 12)
txt(582, 4402, 'Speeds below 4 kt shown at x10 scale', 12)
tbox(737, 4379, 960, 4405)
sample(770, 783, 4392, color='k', lw=2.0)
txt(790, 4391, 'Speed x 1', 9.5, ha='left')
ov.plot([863], [4392], ls='none', marker='D', ms=4.5, mfc='#c8c8c8', mec='k', mew=0.8)
txt(875, 4391, 'Speed /10', 9.5, ha='left')
txt(961, 4815, '0', 9.5, fontweight='bold')
ylab(50, 4614, 'Speed (knots)')
txt(521, 4865, 'Time (GMT)', 12)

fig.savefig('out.png', dpi=100, facecolor='white')
